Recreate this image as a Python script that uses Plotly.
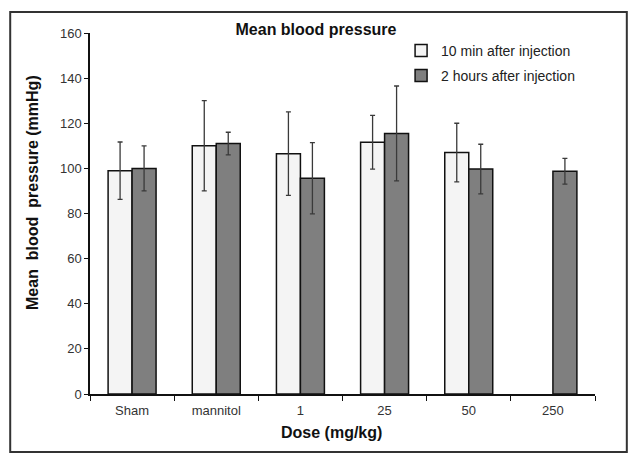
import plotly.graph_objects as go

doses = ["Sham", "mannitol", "1", "25", "50", "250"]

# 10 min after injection (no value for 250 mg/kg)
bp_10min = [99, 110, 106.5, 111.6, 107, None]
err_10min = [12.7, 20, 18.5, 11.9, 13, None]

# 2 hours after injection
bp_2h = [100, 111, 95.6, 115.5, 99.7, 98.7]
err_2h = [10, 5, 15.8, 21, 11, 5.7]

font = "Liberation Sans, Arial, sans-serif"

fig = go.Figure()

fig.add_trace(
    go.Bar(
        x=doses,
        y=bp_10min,
        name="10 min after injection",
        legendgroup="a",
        marker=dict(color="#f4f4f4", line=dict(color="#111111", width=1.5)),
        error_y=dict(type="data", array=err_10min, color="#3a3a3a", thickness=1.3, width=2.5),
    )
)
fig.add_trace(
    go.Bar(
        x=doses,
        y=bp_2h,
        name="2 hours after injection",
        legendgroup="b",
        marker=dict(color="#7f7f7f", line=dict(color="#111111", width=1.5)),
        error_y=dict(type="data", array=err_2h, color="#3a3a3a", thickness=1.3, width=2.5),
    )
)

# page body adds ~8px offset, so the figure is 8px smaller than the window
fig.update_layout(
    width=628,
    height=454,
    margin=dict(l=82, r=41, t=25, b=68),
    barmode="group",
    bargap=0.43,
    bargroupgap=0,
    plot_bgcolor="white",
    paper_bgcolor="white",
    font=dict(family=font, size=13, color="#333333"),
    title=dict(
        text="<b>Mean blood pressure</b>",
        x=0.4904,
        xanchor="center",
        y=0.9537,
        yanchor="middle",
        font=dict(family=font, size=16, color="#111111"),
    ),
    legend=dict(
        x=0.616,
        y=0.995,
        xanchor="left",
        yanchor="top",
        bgcolor="rgba(0,0,0,0)",
        font=dict(family=font, size=14, color="#222222"),
        itemwidth=30,
        tracegroupgap=4,
    ),
    showlegend=True,
    xaxis=dict(
        showline=True,
        linecolor="#111111",
        linewidth=1.5,
        ticks="outside",
        tickson="boundaries",
        ticklen=5,
        tickcolor="#111111",
        ticklabelstandoff=4,
        showgrid=False,
    ),
    yaxis=dict(
        range=[0, 160],
        dtick=20,
        showline=True,
        linecolor="#111111",
        linewidth=1.5,
        ticks="outside",
        ticklen=4,
        tickcolor="#111111",
        showgrid=False,
        zeroline=False,
    ),
)

# axis titles as annotations so they sit where the original has them
fig.add_annotation(
    text="<b>Mean\u00a0\u00a0blood\u00a0\u00a0pressure (mmHg)</b>",
    xref="paper",
    yref="paper",
    x=-0.1129,
    y=0.5596,
    xanchor="center",
    yanchor="middle",
    textangle=-90,
    showarrow=False,
    font=dict(family=font, size=16, color="#111111"),
)
fig.add_annotation(
    text="<b>Dose (mg/kg)</b>",
    xref="paper",
    yref="paper",
    x=0.479,
    y=-0.108,
    xanchor="center",
    yanchor="middle",
    showarrow=False,
    font=dict(family=font, size=16, color="#111111"),
)

# outer frame round the whole figure
fig.add_shape(
    type="rect",
    xref="paper",
    yref="paper",
    x0=-0.158,
    x1=1.063,
    y0=-0.161,
    y1=1.058,
    line=dict(color="#333333", width=2),
    layer="above",
)

fig.write_html("out.html")
